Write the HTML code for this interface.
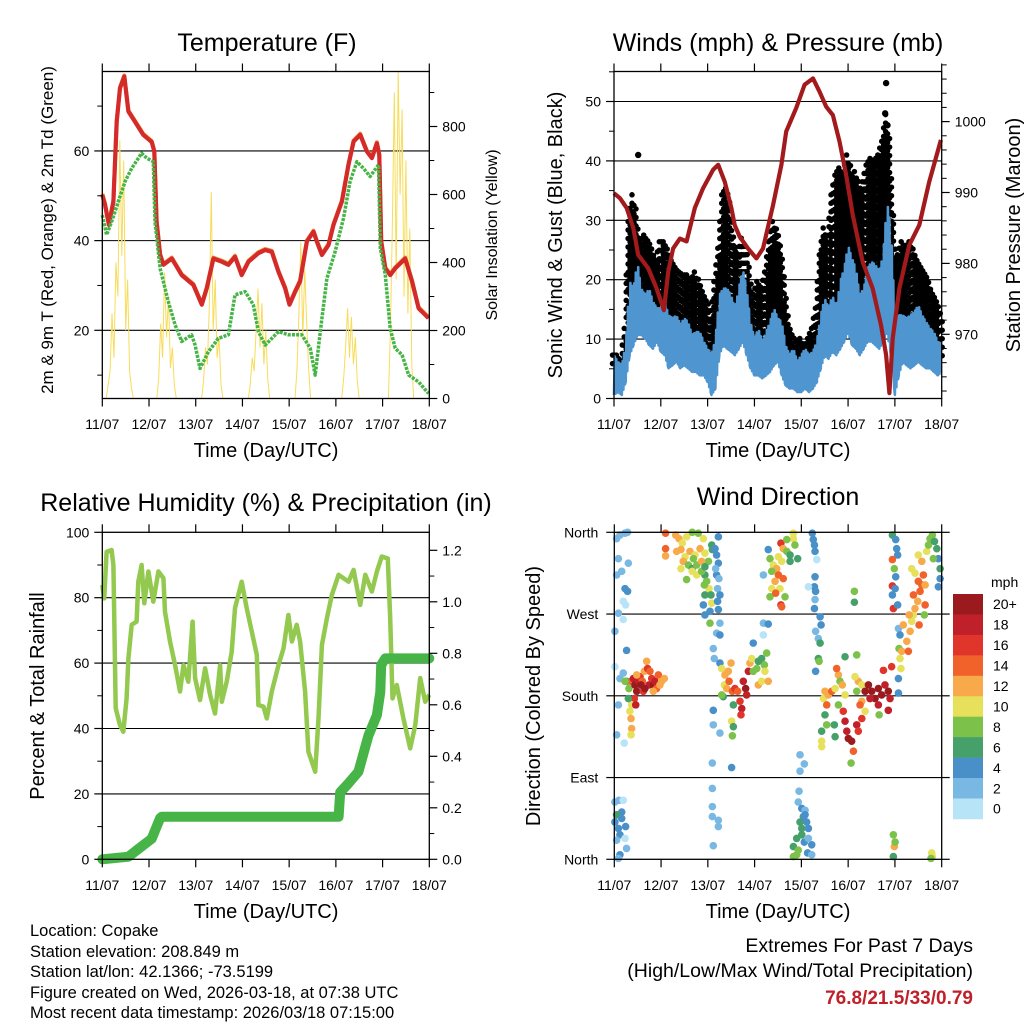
<!DOCTYPE html>
<html><head><meta charset="utf-8"><style>
html,body{margin:0;padding:0;background:#fff;}
svg{display:block;font-family:"Liberation Sans",sans-serif;}
</style></head><body>
<svg id="fig" width="1024" height="1024" viewBox="0 0 1024 1024" xmlns="http://www.w3.org/2000/svg">
<rect width="1024" height="1024" fill="#fff"/>
<g id="p1"></g>
<g id="p2"></g>
<g id="p3"></g>
<g id="p4"></g>
<g id="info" font-size="16.5" fill="#000">
<text x="30" y="936">Location: Copake</text>
<text x="30" y="957">Station elevation: 208.849 m</text>
<text x="30" y="977">Station lat/lon: 42.1366; -73.5199</text>
<text x="30" y="998">Figure created on Wed, 2026-03-18, at 07:38 UTC</text>
<text x="30" y="1018">Most recent data timestamp: 2026/03/18 07:15:00</text>
</g>
<g text-anchor="end">
<text x="973" y="952" font-size="19.5">Extremes For Past 7 Days</text>
<text x="973" y="977" font-size="19.5">(High/Low/Max Wind/Total Precipitation)</text>
<text x="973" y="1004" font-size="19" font-weight="bold" fill="#c0202a">76.8/21.5/33/0.79</text>
</g>
</svg>
<script>
// ===== Temperature data (hours since 11/07, deg F) =====
const tempHours=[0,1.4,3.4,5.7,7.4,9.1,11.3,13.4,16.8,21,25.4,26.7,27.9,29.7,31.4,35.7,40.8,46.8,51.1,53.7,57.1,61.4,64.8,68.2,71.6,75.1,80.2,83.7,87.1,90.5,93.9,96.2,99.1,101.6,105.1,108.5,110.2,112.8,116.2,118.8,123.1,126.5,129.1,132.5,135.9,138.5,141.1,142.3,143.3,145.4,147.9,150.5,155.6,159.1,162.5,167.6];
const tempVals=[50.2,48,43.5,48.7,66.5,74,76.6,68.8,66.5,63.6,62,59.9,44.2,36.8,34.6,36,32.3,30.1,25.7,29.4,36,35.3,34.6,36.4,32.3,35.3,37.2,37.9,37.5,33,29.4,25.7,28.6,30.9,39.8,42,39.8,36.8,39,43.5,48.7,56.9,62.1,63.6,59.9,58.4,61.7,59.1,39.8,33.8,32.3,33.8,36,30.9,24.9,22.7];
const dewHours=[0,2.2,4.8,8.2,11.7,15.1,20.2,22.8,26.2,27.1,29.7,33.9,37.4,40.8,45.9,47.7,50.2,54.5,59.6,64.8,68.2,73.4,77.6,80.2,83.7,90.5,95.6,102.5,106.8,109.4,112,115.4,119.6,123.9,127.3,130.8,134.2,137.6,141.9,142.8,145.4,147.9,150.5,154,157.4,162.5,167.6];
const dewVals=[45.7,41.3,44.2,48.7,53.2,56.1,59.5,58.4,57.6,44.2,33.8,26.4,21.2,17.5,19,16.7,11.5,15.2,18.2,19,27.9,28.6,25.7,19.7,16.7,19.7,19,19,16,10,19.7,31.6,37.5,45,53.2,57.6,56.1,54.3,56.9,38.3,32.3,20.4,16,14.5,10,8.5,5.9];
const insolHours=[0,2,4,5,6,7,8,9,10,11,12,13,14,15,16,28,29,30,31,32,33,34,35,36,37,38,51,52,53,54,55,56,57,58,59,60,61,62,75,76,77,78,79,80,81,82,83,84,85,86,99,100,101,102,103,104,105,106,107,123,124,125,126,127,128,129,130,131,132,147,148,149,150,151,152,153,154,155,156,157,158,159,160,168];
const insolVals=[0,0,80,250,120,400,300,760,420,700,200,350,80,30,0,0,60,220,120,371,180,300,90,150,40,0,0,50,150,100,280,607,200,350,120,180,40,0,0,40,120,80,200,323,150,280,100,200,60,0,0,80,250,460,180,380,220,90,0,0,60,150,265,120,240,100,180,50,0,0,200,500,900,350,960,600,850,300,700,250,500,100,0,0];
const tempLabels=[20,40,60];
const solarLabels=[0,200,400,600,800];
const dayLabels=["11/07","12/07","13/07","14/07","15/07","16/07","17/07","18/07"];

// ===== Wind / pressure data =====
const presHours=[0,3.1,6.5,9.9,12.4,17.6,21.8,25.6,27.8,30.3,33.8,37.2,41.4,45.7,50.8,53.4,56.8,60.2,61.9,64.4,68.7,73,76.4,81.5,85.8,88.3,93.4,97.7,102,105.4,108.8,112.2,115.6,119,122.4,127.5,132.6,136.9,139.5,141.2,142.9,146.3,151.4,156.5,161.6,167.6];
const presVals=[989.9,989.2,987.8,985,981.2,979.3,976.5,973.4,978.8,982.1,983.5,983.1,987.8,990.6,993.2,993.9,991.5,987.8,985.4,983.8,982.1,980.7,982.1,988.2,993.9,998.6,1001.9,1005.2,1006.1,1004.2,1002.1,1000.9,997.2,992.5,986.8,980.2,976.5,971.3,967.1,961.7,969.4,976.5,982.6,985.4,991.5,997.4];
const windHi=[7.3,6.2,5.6,9,19.7,18.5,23,18.5,17.4,18.5,16.3,15.2,15.2,16.3,14,13.5,14,12.4,13.5,12.9,10.7,11.2,11.2,9.6,8.4,7.3,10.1,17.4,18.5,18.5,17.4,15.2,18.5,21.9,18.5,12.9,10.1,11.8,9.6,11.2,12.9,15.2,13.5,12.9,9,7.3,8.4,6.2,7.3,8.4,7.3,7.9,9.6,14,16.9,15.2,17.4,15.2,19.7,21.9,25.8,23.6,21.9,17.4,18.5,21.9,23,22.5,21.3,24.2,33.1,28.7,14,14,14,13.5,14,14.6,15.7,14,12.9,11.8,11.2,9.6,9];
const windLo=[0.6,1.1,0.6,2.8,7.3,9,10.7,10.7,10.1,9,8.4,9.6,7.9,7.3,5.1,5.6,6.2,5.1,5.6,5.1,4.5,4.5,3.9,3.9,2.8,0.6,1.7,7.3,9,8.4,7.9,7.3,8.4,9.6,7.3,5.1,3.9,3.9,3.4,3.9,4.5,5.6,6.2,3.9,2.2,1.7,1.7,1.1,1.1,1.7,1.1,1.7,2.8,5.1,7.3,6.7,7.9,7.3,8.4,9.6,11.2,9,8.4,7.3,8.4,9.6,9.6,9,8.4,9.6,11.2,7.3,0.6,3.9,6.2,5.6,5.1,5.6,6.2,5.6,5.1,5.1,4.5,3.9,4.5];
const gustHi=[7.3,7.3,6.2,11.8,29.8,34.3,27.5,26.4,27.5,26.4,24.2,23,26.4,26.4,24.2,23,21.9,21.3,20.8,20.8,19.7,21.3,19.1,17.4,16.3,12.9,19.7,25.3,34.3,35.4,28.7,25.3,24.2,27,24.2,18.5,17.4,19.7,18.5,21.3,26.4,29.8,27.5,23,15.7,11.2,10.7,9.6,10.1,8.4,10.1,11.8,15.2,24.2,28.7,26.4,34.3,37.6,38.8,37.6,41,36.5,38.2,34.3,36.5,39.3,40.4,39.9,41,43.3,47.8,34.3,23,24.2,26.4,25.3,26.4,24.2,23,21.9,20.8,18.5,17.4,15.7,12.9];
const gustOutHours=[12.4,139.5,139,140.2];
const gustOutVals=[41,53.1,48,46];
const mphLabels=[0,10,20,30,40,50];
const presTicks=[962,964,966,968,970,972,974,976,978,980,982,984,986,988,990,992,994,996,998,1000,1002,1004,1006,1008];
const presLabels=[970,980,990,1000];

// ===== Humidity / precipitation =====
const rhHours=[0,1,2.2,4.8,5.7,6.9,9.1,10.8,12.5,13.4,15.1,17.6,18.5,20.2,21.6,23.7,26.2,28.8,31.4,32.2,34.8,37.4,39.9,41.7,44.2,46.4,47.7,50.2,52.8,55.4,57.9,60.5,61.4,63.9,66.5,68.2,71.6,74.2,76.8,79.4,80.2,82.8,84.5,87.1,90.5,93.1,95.6,97.4,99.9,101.6,104.2,105.9,109.4,111.1,112.8,115.4,117.9,121.4,126.5,129.1,132.5,135.1,138.5,141.1,143.6,146.7,147.9,149.1,151.3,154.7,158.2,160.8,163.3,165.9,168];
const rhVals=[83.9,79.8,94,94.6,90,46.2,41,39,49.2,61.5,71.7,72.7,84.9,90,78.3,88,78.8,88,86,75.7,66.6,59.4,51.3,59.4,54.3,72.7,55.4,48.7,58.4,50.3,44.6,59.4,48.2,54.3,63.5,76.8,84.9,76.8,69.6,62.5,47.2,46.7,43.1,51.3,59.4,64.5,74.7,66.6,71.7,66.6,51.3,32.9,26.8,43.1,65.5,73.7,80.8,87,84.9,88.5,77.8,87,81.9,88,92.6,92,73.7,49.2,53.3,43.1,33.9,41.1,55.4,48.2,50.3];
const precipHours=[0,13.4,18.5,25.4,29.7,30.5,121.4,122.2,126.5,131.6,136.7,141.1,142.8,143.3,145.4,168];
const precipVals=[0,0.01,0.04,0.08,0.16,0.165,0.165,0.26,0.295,0.34,0.48,0.56,0.65,0.755,0.78,0.78];
const rhLabels=[0,20,40,60,80,100];
const rhTicks=[10,30,50,70,90];
const prLabels=["0.0","0.2","0.4","0.6","0.8","1.0","1.2"];
const prTicks=[0.1,0.3,0.5,0.7,0.9,1.1];

// ===== Wind direction observations [hour, degrees, mph] =====
const wdObs=[
[1.2,353,2],[2.9,357,2],[5.5,359,2],[6.8,360,2],[2.1,331,2],[1.2,313,2],[3.8,317,2],[5.5,298,4],[6.8,295,4],[4.6,284,0],[5.8,280,0],[2.1,271,2],[4.6,264,0],[0.3,251,2],[6.3,230,4],[0.3,212,0],[2.9,199,2],[4.6,205,2],[2.1,170,2],[1.2,137,2],[5.1,128,0],[7.2,326,2],
[0.3,63,2],[2.4,65,2],[4.6,65,0],[1.2,49,4],[3.8,52,4],[0.3,41,4],[2.1,34,4],[2.9,27,4],[1.2,21,2],[5.5,23,0],[6.3,12,2],[2.9,5,4],[1.2,49,6],[5.8,36,4],[2.1,1,2],[3.8,45,4],
[6.3,196,6],[7.5,188,8],[8.6,196,14],[9.8,199,18],[10.6,192,20],[11.5,185,20],[12.3,196,18],[13.2,201,16],[14.4,196,14],[15.4,207,12],[16.6,218,12],[17.1,210,16],[17.8,192,18],[19.2,199,16],[20.0,192,20],[20.9,196,18],[21.7,188,14],[22.6,203,14],[23.4,192,12],[24.3,196,12],[25.7,199,12],[20.0,185,12],[14.9,185,16],[10.3,177,16],[8.9,170,10],[8.0,163,10],[8.6,155,12],[8.9,144,12],[8.6,137,10],[7.2,177,6],[11.5,203,12],[18.3,207,14],[5.5,196,8],[11.0,170,18],[15.7,188,20],[13.7,192,20],
[26.3,359,14],[26.3,342,14],[26.3,334,12],[31.5,357,12],[33.2,353,12],[34.9,348,10],[37.1,355,10],[40.0,360,8],[43.1,359,8],[45.7,353,10],[32.0,339,12],[34.2,341,12],[36.3,333,10],[38.8,339,12],[41.4,335,10],[44.0,342,12],[46.5,337,10],[48.3,328,8],[50.0,346,6],[50.3,341,6],[35.4,328,12],[38.0,324,8],[40.0,320,6],[42.3,324,8],[44.8,328,12],[46.5,313,6],[47.4,306,8],[48.6,298,10],[49.6,291,6],[46.2,302,8],[45.7,280,4],[46.5,291,6],[49.1,273,4],[50.0,282,10],[37.1,308,8],[40.0,317,10],[42.3,313,10],[44.8,317,8],[40.6,331,8],[34.2,320,10],[46.5,322,6],
[53.4,355,4],[52.5,335,4],[53.4,326,4],[52.5,313,4],[53.7,309,2],[53.0,298,2],[54.2,291,4],[53.0,284,4],[53.4,275,4],[54.2,260,2],[52.5,249,2],[54.2,247,4],[50.8,232,2],[51.3,221,2],[54.2,216,4],[50.8,164,4],[50.8,148,2],[54.2,139,2],[50.3,106,2],[50.3,78,2],[50.3,58,2],[50.3,47,2],[53.4,43,2],[53.4,36,2],[50.8,15,2],[46.5,269,4],[49.1,260,8],[51.7,342,4],[52.0,320,2],
[55.1,210,10],[56.8,203,12],[58.5,207,12],[59.9,216,12],[56.5,192,10],[57.7,188,12],[58.9,196,14],[60.6,185,14],[61.9,188,16],[63.3,185,14],[64.5,174,16],[65.4,166,18],[65.0,159,16],[61.1,170,6],[60.2,152,10],[61.1,146,6],[60.6,136,8],[66.2,196,18],[67.4,188,20],[68.8,207,18],[67.9,181,18],[69.6,216,12],[70.5,221,10],[71.3,207,8],[73.1,210,8],[73.9,192,12],[75.6,196,10],[75.6,221,6],[77.0,214,8],[78.2,227,8],[77.3,207,10],[79.0,196,12],[73.9,218,6],[71.3,238,4],[76.5,260,2],[79.0,259,4],[76.5,247,0],[60.2,101,4],[55.9,179,6],[55.1,181,8],
[79.0,341,4],[76.5,313,2],[79.9,331,8],[81.6,324,10],[83.3,320,12],[85.5,348,16],[86.7,342,12],[88.5,339,8],[90.2,335,6],[91.9,353,10],[91.9,359,10],[92.7,346,8],[94.1,331,6],[84.2,313,14],[82.5,306,12],[80.8,298,10],[79.9,289,8],[85.0,298,10],[86.7,309,14],[85.5,280,16],[87.6,289,8],[84.2,333,10],[88.5,352,8],[90.2,328,6],[85.9,278,14],[80.8,317,8],[82.8,293,14],[85.9,328,10],
[101.6,359,4],[102.1,352,4],[102.7,346,4],[103.0,339,4],[103.9,330,0],[103.0,311,4],[102.7,300,4],[103.3,295,4],[103.0,286,2],[102.7,276,4],[105.6,267,4],[106.1,258,4],[103.3,251,2],[104.7,243,2],[105.6,238,6],[104.7,221,6],[105.1,218,8],[103.3,207,4],[99.6,300,0],
[95.3,115,2],[97.5,105,2],[95.3,97,2],[94.8,75,2],[94.4,63,2],[96.2,56,4],[97.9,54,2],[97.0,47,4],[95.3,41,6],[98.7,41,4],[96.2,34,6],[99.6,34,4],[93.6,23,6],[97.5,19,4],[101.3,16,4],[91.9,14,6],[94.4,10,8],[99.2,7,4],[101.3,5,2],[91.9,3,8],[93.6,5,8],[96.2,27,6],[99.6,23,2],[97.9,49,4],
[108.1,185,12],[107.3,177,10],[109.0,170,14],[109.8,181,12],[111.6,185,14],[113.3,188,10],[115.0,203,12],[114.1,210,14],[115.8,196,8],[117.0,192,12],[118.4,181,10],[108.1,159,6],[109.0,148,8],[106.4,141,6],[106.4,130,10],[106.4,124,10],[112.9,148,6],[113.3,135,6],[115.0,170,8],[117.5,163,16],[118.4,152,18],[119.3,141,18],[120.1,133,20],[121.8,130,20],[122.7,119,14],[121.5,106,8],[124.4,148,18],[125.2,141,16],[127.0,155,16],[127.0,174,12],[128.7,163,10],[124.4,185,8],[125.2,196,12],[127.0,192,10],[123.5,201,10],[124.4,225,8],[118.4,223,6],[130.4,192,20],[132.1,185,20],[133.8,177,20],[135.5,188,20],[137.2,181,20],[138.9,192,18],[140.6,185,20],[141.5,177,18],[140.6,164,18],[135.5,170,18],[138.1,208,16],[142.3,212,16],[135.9,159,8],[128.7,185,20],[131.2,177,18],[126.1,170,14],[123.2,295,8],[123.2,283,6],
[142.7,357,6],[144.4,352,4],[144.9,342,4],[145.4,335,4],[142.7,330,14],[143.7,320,8],[144.4,311,4],[142.7,301,16],[144.1,298,4],[142.7,291,4],[143.2,276,16],[145.4,280,4],[145.8,254,2],[146.6,247,4],[146.1,232,8],[147.5,229,12],[146.6,221,10],[147.1,210,10],[145.8,199,4],[145.8,183,4],
[148.3,258,12],[150.1,240,12],[150.9,229,14],[151.8,251,12],[152.6,262,10],[153.5,269,10],[154.3,276,12],[155.7,284,12],[156.9,295,14],[157.8,302,14],[156.0,306,14],[154.3,315,10],[152.6,320,10],[156.0,335,10],[157.8,328,12],[158.6,313,14],[159.5,302,12],[160.3,339,10],[161.2,346,8],[162.0,353,8],[163.2,357,8],[164.3,350,6],[165.5,342,6],[166.3,331,4],[167.2,320,6],[167.2,309,4],[166.3,300,4],[163.7,331,8],[159.5,280,14],[159.1,269,8],[156.4,258,14],[153.5,291,14],[151.3,269,12],
[143.2,27,8],[143.7,14,12],[143.2,3,6],[144.1,19,8],[162.9,7,10],[163.2,3,10],[162.5,1,8]
];
const dirLabels=["North","East","South","West","North"];
const speedClasses=["0","2","4","6","8","10","12","14","16","18","20+"];
const speedColors=["#b8e4f8","#7ab8e4","#4a90c8","#45a06a","#7cc24a","#e6e05a","#f8a94a","#f0622a","#e0352b","#c0202a","#9a1a1e"];

// ===== helpers =====
const NS="http://www.w3.org/2000/svg";
function mk(parent,tag,attrs,name,inter){
  const e=document.createElementNS(NS,tag);
  for(const k in attrs) e.setAttribute(k,attrs[k]);
  
  
  parent.appendChild(e);return e;
}
function txt(parent,x,y,s,attrs,name){
  const t=mk(parent,'text',Object.assign({x:x,y:y},attrs||{}),name,false);
  t.textContent=s;return t;
}
function pathFrom(xs,ys){return xs.map((x,i)=>(i?'L':'M')+x.toFixed(1)+','+ys[i].toFixed(1)).join('');}
function frame(g,L,T,R,B,name){
  mk(g,'rect',{x:L,y:T,width:R-L,height:B-T,fill:'none',stroke:'#000','stroke-width':1.3},name,false);
}
function dayTicks(g,xf,T,B,labelY,axisTitleY,cx){
  for(let d=0;d<=7;d++){
    const x=xf(d*24);
    mk(g,'line',{x1:x,x2:x,y1:B,y2:B+8,stroke:'#000','stroke-width':1.2},'x-tick',false);
    mk(g,'line',{x1:x,x2:x,y1:T,y2:T-8,stroke:'#000','stroke-width':1.2},'x-tick-top',false);
    txt(g,x,labelY,dayLabels[d],{'font-size':14,'text-anchor':'middle'},'x-tick-label');
  }
  txt(g,cx,axisTitleY,'Time (Day/UTC)',{'font-size':20,'text-anchor':'middle'},'x-axis-title');
}
function yTicksLeft(g,L,yf,major,minor,fmt){
  major.forEach((v,i)=>{const y=yf(v);
    mk(g,'line',{x1:L-8,x2:L,y1:y,y2:y,stroke:'#000','stroke-width':1.2},'y-tick',false);
    txt(g,L-13,y+5,fmt?fmt[i]:String(v),{'font-size':14,'text-anchor':'end'},'y-tick-label');});
  minor.forEach(v=>{const y=yf(v);
    mk(g,'line',{x1:L-5,x2:L,y1:y,y2:y,stroke:'#000','stroke-width':1},'y-minor-tick',false);});
}
function yTicksRight(g,R,yf,major,minor,fmt){
  major.forEach((v,i)=>{const y=yf(v);
    mk(g,'line',{x1:R,x2:R+8,y1:y,y2:y,stroke:'#000','stroke-width':1.2},'y2-tick',false);
    txt(g,R+13,y+5,fmt?fmt[i]:String(v),{'font-size':14,'text-anchor':'start'},'y2-tick-label');});
  minor.forEach(v=>{const y=yf(v);
    mk(g,'line',{x1:R,x2:R+5,y1:y,y2:y,stroke:'#000','stroke-width':1},'y2-minor-tick',false);});
}
function grid(g,L,R,ys){ys.forEach(y=>mk(g,'line',{x1:L,x2:R,y1:y,y2:y,stroke:'#000','stroke-width':1.1},'gridline',false));}
function vlabel(g,x,y,s,size,name){
  const t=mk(g,'text',{x:x,y:y,'font-size':size,'text-anchor':'middle',transform:'rotate(-90 '+x+' '+y+')'},name,false);
  t.textContent=s;
}

// ===== Panel 1: Temperature =====
(function(){
  const g=document.getElementById('p1');
  const L=102.3,R=429.3,T=71.5,B=398.5;
  const x=h=>L+h*(R-L)/168;
  const yT=v=>330.3-(v-20)*4.484;
  const yS=s=>B-s*0.34;
  txt(g,267,51,'Temperature (F)',{'font-size':25,'text-anchor':'middle'},'chart-title');
  grid(g,L,R,tempLabels.map(yT));
  mk(g,'path',{d:pathFrom(insolHours.map(x),insolVals.map(yS)),fill:'none',stroke:'#f7dc5a','stroke-width':1},'solar-insolation-line',false);
  mk(g,'path',{d:pathFrom(tempHours.map(x),tempVals.map(v=>yT(v)-1)),fill:'none',stroke:'#f08a30','stroke-width':4,'stroke-linejoin':'round'},'temp-9m-line',false);
  mk(g,'path',{d:pathFrom(tempHours.map(x),tempVals.map(yT)),fill:'none',stroke:'#d42a2a','stroke-width':4.2,'stroke-linejoin':'round'},'temp-2m-line',false);
  mk(g,'path',{d:pathFrom(dewHours.map(x),dewVals.map(yT)),fill:'none',stroke:'#46b446','stroke-width':3.5,'stroke-dasharray':'3 1.2','stroke-linejoin':'round'},'dewpoint-line',false);
  frame(g,L,T,R,B,'plot-frame');
  yTicksLeft(g,L,yT,tempLabels,[10,30,50,70]);
  yTicksRight(g,R,yS,solarLabels,[100,300,500,700,900]);
  dayTicks(g,x,T,B,429,457,266);
  vlabel(g,53,230,'2m & 9m T (Red, Orange) & 2m Td (Green)',17,'y-axis-title');
  vlabel(g,497,235,'Solar Insolation (Yellow)',16,'y2-axis-title');
})();

// ===== Panel 2: Winds & Pressure =====
(function(){
  const g=document.getElementById('p2');
  const L=614,R=941.7,T=71.5,B=398.5;
  const x=h=>L+h*(R-L)/168;
  const yW=v=>B-v*5.94;
  const yP=p=>334.3-(p-970)*7.09;
  txt(g,778,51,'Winds (mph) & Pressure (mb)',{'font-size':25,'text-anchor':'middle'},'chart-title');
  grid(g,L,R,mphLabels.slice(1).map(yW));
  const n=windHi.length;let d='';
  for(let i=0;i<n-1;i++){
    for(let s=0;s<4;s++){
      const f=s/4,h=(i+f)*2;
      const lo=windHi[i]+(windHi[i+1]-windHi[i])*f;
      const hi=gustHi[i]+(gustHi[i+1]-gustHi[i])*f;
      const xx=(x(h)+(s%2?1.5:-1.5)).toFixed(1);
      const top=yW(hi)+(s%2?4:0);
      d+='M'+xx+','+top.toFixed(1)+'L'+xx+','+yW(Math.min(lo,hi)-2).toFixed(1);
    }
  }
  mk(g,'path',{d:d,fill:'none',stroke:'#000','stroke-width':5.5,'stroke-linecap':'round','stroke-dasharray':'0 8.5'},'gust-points',false);
  gustOutHours.forEach((h,i)=>mk(g,'circle',{cx:x(h),cy:yW(gustOutVals[i]),r:3.2,fill:'#000'},'gust-outlier',false));
  let xs=[],ys=[];
  for(let i=0;i<n-1;i++){
    for(let s=0;s<5;s++){
      const f=s/5,h=(i+f)*2;
      const lo=windLo[i]+(windLo[i+1]-windLo[i])*f;
      const hi=windHi[i]+(windHi[i+1]-windHi[i])*f;
      xs.push(x(h));ys.push(yW(s%2?hi:lo));
    }
  }
  mk(g,'path',{d:pathFrom(xs,ys),fill:'none',stroke:'#4f95d0','stroke-width':2.6,'stroke-linejoin':'round'},'sonic-wind-band',false);
  mk(g,'path',{d:pathFrom(presHours.map(x),presVals.map(yP)),fill:'none',stroke:'#a31a1d','stroke-width':4.2,'stroke-linejoin':'round'},'pressure-line',false);
  frame(g,L,T,R,B,'plot-frame');
  yTicksLeft(g,L,yW,mphLabels,[5,15,25,35,45,55]);
  yTicksRight(g,R,yP,presLabels,presTicks.filter(p=>presLabels.indexOf(p)<0));
  dayTicks(g,x,T,B,429,457,778);
  vlabel(g,562,235,'Sonic Wind & Gust (Blue, Black)',20,'y-axis-title');
  vlabel(g,1020,235,'Station Pressure (Maroon)',20,'y2-axis-title');
})();

// ===== Panel 3: Humidity & Precip =====
(function(){
  const g=document.getElementById('p3');
  const L=102.3,R=429.3,T=532.3,B=859.3;
  const x=h=>L+h*(R-L)/168;
  const yR=v=>B-v*3.27;
  const yPr=p=>B-p*257.5;
  txt(g,266,511,'Relative Humidity (%) & Precipitation (in)',{'font-size':25,'text-anchor':'middle'},'chart-title');
  grid(g,L,R,[20,40,60,80].map(yR));
  mk(g,'path',{d:pathFrom(rhHours.map(x),rhVals.map(yR)),fill:'none',stroke:'#92c94e','stroke-width':4.5,'stroke-linejoin':'round'},'humidity-line',false);
  mk(g,'path',{d:pathFrom(precipHours.map(x),precipVals.map(yPr)),fill:'none',stroke:'#46b446','stroke-width':10,'stroke-linejoin':'round','stroke-linecap':'round'},'precip-line',false);
  frame(g,L,T,R,B,'plot-frame');
  yTicksLeft(g,L,yR,rhLabels,rhTicks);
  yTicksRight(g,R,yPr,prLabels.map(Number),prTicks,prLabels);
  dayTicks(g,x,T,B,890,918,266);
  vlabel(g,44,696,'Percent & Total Rainfall',20,'y-axis-title');
})();

// ===== Panel 4: Wind direction =====
(function(){
  const g=document.getElementById('p4');
  const L=614.3,R=941.7,T=532.3,B=859.3;
  const x=h=>L+h*(R-L)/168;
  const yD=d=>B-d*(B-T)/360;
  txt(g,778,505,'Wind Direction',{'font-size':25,'text-anchor':'middle'},'chart-title');
  grid(g,L,R,[90,180,270].map(yD));
  const cls=s=>Math.min(10,Math.floor(s/2));
  wdObs.forEach(o=>{
    mk(g,'circle',{cx:x(o[0]),cy:yD(o[1]),r:3.8,fill:speedColors[cls(o[2])]},'wind-dir-point',false);
  });
  frame(g,L,T,R,B,'plot-frame');
  [0,90,180,270,360].forEach((d,i)=>{const y=yD(d);
    mk(g,'line',{x1:L-8,x2:L,y1:y,y2:y,stroke:'#000','stroke-width':1.2},'y-tick',false);
    mk(g,'line',{x1:R,x2:R+8,y1:y,y2:y,stroke:'#000','stroke-width':1.2},'y2-tick',false);
    txt(g,L-16,y+5,dirLabels[i],{'font-size':14,'text-anchor':'end'},'y-tick-label');});
  dayTicks(g,x,T,B,890,918,778);
  vlabel(g,540,696,'Direction (Colored By Speed)',20,'y-axis-title');
  const lg=mk(g,'g',{},'speed-legend',false);
  txt(lg,991,587,'mph',{'font-size':14},'legend-title');
  const bh=20.45;
  for(let i=0;i<11;i++){
    const k=10-i, y=594+i*bh;
    mk(lg,'rect',{x:953,y:y,width:30,height:bh+0.3,fill:speedColors[k]},'legend-swatch',false);
    txt(lg,993,y+bh/2+5,speedClasses[k],{'font-size':14},'legend-label');
  }
})();
</script>
</body></html>
